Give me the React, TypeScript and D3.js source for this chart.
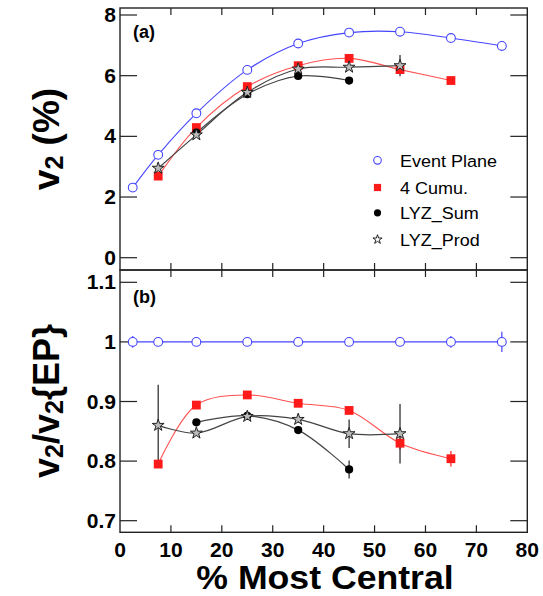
import React from "react";
import * as d3 from "d3";

// ---- data ----
const epX = [2.5, 7.5, 15, 25, 35, 45, 55, 65, 75];
const epV2 = [2.31, 3.39, 4.76, 6.19, 7.06, 7.42, 7.45, 7.24, 6.98];
const cumuX = [7.5, 15, 25, 35, 45, 55, 65];
const cumuV2 = [2.69, 4.29, 5.64, 6.33, 6.57, 6.2, 5.84];
const sumX = [15, 25, 35, 45];
const sumV2 = [4.12, 5.39, 5.99, 5.84];
const prodX = [7.5, 15, 25, 35, 45, 55];
const prodV2 = [2.95, 4.05, 5.45, 6.22, 6.28, 6.33];
const prodV2Err = [0.04, 0.04, 0.04, 0.04, 0.08, 0.35];

const epRatio = [1, 1, 1, 1, 1, 1, 1, 1, 1];
const epRatioErr = [0.01, 0.004, 0.003, 0.003, 0.003, 0.003, 0.004, 0.01, 0.017];
const cumuRatio = [0.795, 0.894, 0.911, 0.897, 0.885, 0.83, 0.804];
const cumuRatioErr = [0.005, 0.004, 0.004, 0.004, 0.005, 0.01, 0.013];
const sumRatio = [0.865, 0.876, 0.852, 0.786];
const sumRatioErr = [0.004, 0.004, 0.005, 0.015];
const prodRatio = [0.86, 0.847, 0.875, 0.87, 0.846, 0.846];
const prodRatioErr = [0.068, 0.005, 0.005, 0.006, 0.024, 0.05];

const xTicks = [0, 10, 20, 30, 40, 50, 60, 70, 80];
const yTicksTop = [0, 2, 4, 6, 8];
const yTicksBottom = [0.7, 0.8, 0.9, 1, 1.1];
const legendLabels = ["Event Plane", "4 Cumu.", "LYZ_Sum", "LYZ_Prod"];

const BLUE = "#4545ff";
const RED = "#ff1a1a";
const LINE_RED = "#ff5050";
const DARK = "#444";
const FONT = "'Liberation Sans', Arial, Helvetica, sans-serif";

const X0 = 120, X1 = 527.3;
const TOP0 = 8, TOP1 = 270, BOT1 = 532.3;

const x = d3.scaleLinear().domain([0, 80]).range([X0, X1]);
const yTop = d3.scaleLinear().domain([0, 8]).range([257.7, 15]);
const yBot = d3.scaleLinear().domain([0.7, 1.1]).range([520.7, 282.3]);

type Y = d3.ScaleLinear<number, number>;

const curve = d3.curveCatmullRom.alpha(0.5);

function path(xs: number[], ys: number[], ys2: Y, straight = false) {
  const gen = d3
    .line<number>()
    .x((_, i) => x(xs[i]))
    .y((v) => ys2(v))
    .curve(straight ? d3.curveLinear : curve);
  return gen(ys) || "";
}

const starPath = (size: number) => d3.symbol().type(d3.symbolStar).size(size)() || "";

function Markers({ kind, xs, ys, yS, big = true }: { kind: string; xs: number[]; ys: number[]; yS: Y; big?: boolean }) {
  return (
    <g>
      {ys.map((v, i) => {
        const cx = x(xs[i]);
        const cy = yS(v);
        if (kind === "ep")
          return <circle key={i} cx={cx} cy={cy} r={4.4} fill="white" stroke={BLUE} strokeWidth={1.1} />;
        if (kind === "cumu")
          return <rect key={i} x={cx - 4.4} y={cy - 4.4} width={8.8} height={8.8} fill={RED} />;
        if (kind === "sum") return <circle key={i} cx={cx} cy={cy} r={4.1} fill="black" />;
        return (
          <path key={i} d={starPath(big ? 44 : 30)} transform={`translate(${cx},${cy})`} fill="#bbb" stroke="#222" strokeWidth={1} />
        );
      })}
    </g>
  );
}

function ErrBars({ xs, ys, errs, yS, color }: { xs: number[]; ys: number[]; errs: number[]; yS: Y; color: string }) {
  return (
    <g>
      {ys.map((v, i) => (
        <line key={i} x1={x(xs[i])} x2={x(xs[i])} y1={yS(v - errs[i])} y2={yS(v + errs[i])} stroke={color} strokeWidth={1.2} />
      ))}
    </g>
  );
}

function Frame({ y0, y1, yS, ticks, fmt }: { y0: number; y1: number; yS: Y; ticks: number[]; fmt: (v: number) => string }) {
  return (
    <g>
      <rect x={X0} y={y0} width={X1 - X0} height={y1 - y0} fill="none" stroke="#222" strokeWidth={1.4} />
      {xTicks.slice(1, -1).map((t) => (
        <g key={t}>
          <line x1={x(t)} x2={x(t)} y1={y0} y2={y0 + 7} stroke="#222" strokeWidth={1.2} />
          <line x1={x(t)} x2={x(t)} y1={y1} y2={y1 - 7} stroke="#222" strokeWidth={1.2} />
        </g>
      ))}
      {ticks.map((t) => (
        <g key={t}>
          <line x1={X0} x2={X0 + 17} y1={yS(t)} y2={yS(t)} stroke="#222" strokeWidth={1.2} />
          <line x1={X1} x2={X1 - 17} y1={yS(t)} y2={yS(t)} stroke="#222" strokeWidth={1.2} />
          <text
            x={116}
            y={yS(t)}
            dy="0.36em"
            textAnchor="end"
            fontFamily={FONT}
            fontWeight="bold"
            fontSize={19.5}
            transform={`translate(116,0) scale(1.08,1) translate(-116,0)`}
          >
            {fmt(t)}
          </text>
        </g>
      ))}
    </g>
  );
}

export default function App() {
  const legendY = [160.3, 187.5, 212.8, 239.5];
  const legendKinds = ["ep", "cumu", "sum", "prod"];
  return (
    <svg width={543} height={596} style={{ position: "absolute", left: 0, top: 0, background: "white" }}>
      <rect width={543} height={596} fill="white" />
      {/* top panel */}
      <Frame y0={TOP0} y1={TOP1} yS={yTop} ticks={yTicksTop} fmt={(v) => String(v)} />
      <path d={path(epX, epV2, yTop)} fill="none" stroke={BLUE} strokeWidth={1.1} />
      <path d={path(cumuX, cumuV2, yTop)} fill="none" stroke={LINE_RED} strokeWidth={1.1} />
      <path d={path(sumX, sumV2, yTop)} fill="none" stroke={DARK} strokeWidth={1.2} />
      <path d={path(prodX, prodV2, yTop)} fill="none" stroke={DARK} strokeWidth={1.2} />
      <ErrBars xs={prodX} ys={prodV2} errs={prodV2Err} yS={yTop} color="#222" />
      <Markers kind="ep" xs={epX} ys={epV2} yS={yTop} />
      <Markers kind="cumu" xs={cumuX} ys={cumuV2} yS={yTop} />
      <Markers kind="sum" xs={sumX} ys={sumV2} yS={yTop} />
      <Markers kind="prod" xs={prodX} ys={prodV2} yS={yTop} />
      <text x={133} y={38} fontFamily={FONT} fontWeight="bold" fontSize={18}>(a)</text>

      {/* legend */}
      {legendLabels.map((lab, i) => {
        const k = legendKinds[i];
        const cy = legendY[i];
        const cx = 377.5;
        return (
          <g key={lab}>
            {k === "ep" && <circle cx={cx} cy={cy} r={3.8} fill="white" stroke={BLUE} strokeWidth={1.1} />}
            {k === "cumu" && <rect x={cx - 3.6} y={cy - 3.6} width={7.2} height={7.2} fill={RED} />}
            {k === "sum" && <circle cx={cx} cy={cy} r={3.6} fill="black" />}
            {k === "prod" && <path d={starPath(26)} transform={`translate(${cx},${cy})`} fill="white" stroke="#222" strokeWidth={1} />}
            <text
              x={400}
              y={cy + 6.6}
              fontFamily={FONT}
              fontSize={17}
              transform={`translate(400,0) scale(1.06,1) translate(-400,0)`}
            >
              {lab}
            </text>
          </g>
        );
      })}

      {/* bottom panel */}
      <Frame y0={TOP1} y1={BOT1} yS={yBot} ticks={yTicksBottom} fmt={(v) => (v === 1 ? "1" : v.toFixed(1))} />
      <path d={path(epX, epRatio, yBot, true)} fill="none" stroke={BLUE} strokeWidth={1.3} />
      <path d={path(cumuX, cumuRatio, yBot)} fill="none" stroke={LINE_RED} strokeWidth={1.1} />
      <path d={path(sumX, sumRatio, yBot)} fill="none" stroke={DARK} strokeWidth={1.2} />
      <path d={path(prodX, prodRatio, yBot)} fill="none" stroke={DARK} strokeWidth={1.2} />
      <ErrBars xs={epX} ys={epRatio} errs={epRatioErr} yS={yBot} color={BLUE} />
      <ErrBars xs={cumuX} ys={cumuRatio} errs={cumuRatioErr} yS={yBot} color={RED} />
      <ErrBars xs={sumX} ys={sumRatio} errs={sumRatioErr} yS={yBot} color="#222" />
      <ErrBars xs={prodX} ys={prodRatio} errs={prodRatioErr} yS={yBot} color="#222" />
      <Markers kind="ep" xs={epX} ys={epRatio} yS={yBot} />
      <Markers kind="cumu" xs={cumuX} ys={cumuRatio} yS={yBot} />
      <Markers kind="sum" xs={sumX} ys={sumRatio} yS={yBot} />
      <Markers kind="prod" xs={prodX} ys={prodRatio} yS={yBot} />
      <text x={133} y={303} fontFamily={FONT} fontWeight="bold" fontSize={18}>(b)</text>

      {/* x tick labels */}
      {xTicks.map((t) => (
        <text
          key={t}
          x={x(t)}
          y={557}
          textAnchor="middle"
          fontFamily={FONT}
          fontWeight="bold"
          fontSize={19.5}
          transform={`translate(${x(t)},0) scale(1.08,1) translate(${-x(t)},0)`}
        >
          {t}
        </text>
      ))}
      <text
        x={325}
        y={589}
        textAnchor="middle"
        fontFamily={FONT}
        fontWeight="bold"
        fontSize={33}
        transform={`translate(325,0) scale(1.08,1) translate(-325,0)`}
      >
        % Most Central
      </text>

      {/* y titles */}
      <text transform="translate(59,139) rotate(-90)" textAnchor="middle" fontFamily={FONT} fontWeight="bold" fontSize={37}>
        v<tspan fontSize={25} dy={4}>2</tspan>
        <tspan dy={-4}> (%)</tspan>
      </text>
      <text transform="translate(59,401) rotate(-90)" textAnchor="middle" fontFamily={FONT} fontWeight="bold" fontSize={36}>
        v<tspan fontSize={25} dy={4}>2</tspan>
        <tspan dy={-4}>/v</tspan>
        <tspan fontSize={25} dy={4}>2</tspan>
        <tspan dy={-4}>{"{EP}"}</tspan>
      </text>
    </svg>
  );
}
